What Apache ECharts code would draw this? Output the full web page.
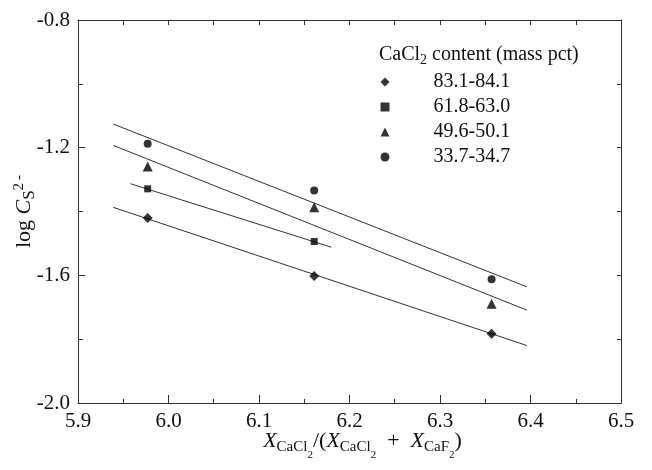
<!DOCTYPE html>
<html>
<head>
<meta charset="utf-8">
<script src="https://cdn.jsdelivr.net/npm/echarts@6/dist/echarts.min.js"></script>
<style>
  html, body { margin: 0; padding: 0; background: #fff; }
  #chart { width: 652px; height: 470px; }
</style>
</head>
<body>
<div id="chart"></div>
<script>
// measured points, x = X_CaCl2/(X_CaCl2+X_CaF2)
const xVals = [5.977, 6.161, 6.357];
const legendNames = ["83.1-84.1", "61.8-63.0", "49.6-50.1", "33.7-34.7"];
const diamondVals = [-1.420, -1.602, -1.783];
const squareVals = [-1.329, -1.494];
const triangleVals = [-1.259, -1.387, -1.689];
const circleVals = [-1.188, -1.334, -1.612];

// fitted lines, endpoints
const fitLongX = [5.939, 6.396];
const fitSquareX = [5.958, 6.180];
const diamondFit = [-1.387, -1.820];
const squareFit = [-1.313, -1.512];
const triangleFit = [-1.193, -1.709];
const circleFit = [-1.126, -1.636];

const xTicks = [5.9, 6.0, 6.1, 6.2, 6.3, 6.4, 6.5];
const yTicks = [-2.0, -1.6, -1.2, -0.8];

const FONT = "Liberation Serif";
const AXIS_COLOR = "#333";
const TEXT_COLOR = "#111";

function pairs(xs, ys) {
  return ys.map((y, i) => [xs[i], y]);
}

function scatter(name, symbol, size, ys) {
  return {
    name: name,
    type: "scatter",
    symbol: symbol,
    symbolSize: size,
    itemStyle: { color: "#000" },
    data: pairs(xVals, ys),
    z: 3,
  };
}

function fitLine(name, xs, ys) {
  return {
    name: name,
    type: "line",
    showSymbol: false,
    symbol: "none",
    lineStyle: { color: "#333", width: 1 },
    data: pairs(xs, ys),
    silent: true,
    z: 2,
  };
}

// rich text piece, top aligned and pushed down by padTop
function rt(size, padTop, italic) {
  return {
    fontFamily: FONT,
    fontSize: size,
    lineHeight: size,
    fontStyle: italic ? "italic" : "normal",
    verticalAlign: "top",
    padding: [padTop, 0, 0, 0],
    color: TEXT_COLOR,
  };
}

const baseAxis = {
  axisLine: { show: true, lineStyle: { color: AXIS_COLOR, width: 1 } },
  splitLine: { show: false },
  minorSplitLine: { show: false },
};

let chart = echarts.init(document.getElementById("chart"));
chart.setOption({
  animation: false,
  backgroundColor: "#fff",
  textStyle: { fontFamily: FONT },
  grid: { left: 78, right: 31, top: 20, bottom: 67, outerBoundsMode: "none", containLabel: false },
  legend: {
    orient: "vertical",
    left: 380.5,
    top: 72,
    padding: 0,
    itemWidth: 9,
    itemHeight: 9,
    itemGap: 5,
    selectedMode: false,
    data: legendNames,
    textStyle: {
      fontFamily: FONT,
      fontSize: 20,
      color: TEXT_COLOR,
      lineHeight: 20,
      padding: [0, 0, 0, 39],
    },
  },
  graphic: [
    {
      type: "text",
      left: 379,
      top: 45,
      style: {
        text: "{a|CaCl}{b|2}{a| content (mass pct)}",
        rich: {
          a: Object.assign(rt(20, 0, false), { fill: TEXT_COLOR }),
          b: Object.assign(rt(14, 8, false), { fill: TEXT_COLOR }),
        },
      },
    },
  ],
  xAxis: [
    Object.assign({}, baseAxis, {
      type: "value",
      min: xTicks[0],
      max: xTicks[xTicks.length - 1],
      interval: 0.1,
      position: "bottom",
      axisTick: { show: true, inside: true, length: 8, lineStyle: { color: AXIS_COLOR } },
      minorTick: { show: true, splitNumber: 2, length: 4, lineStyle: { color: AXIS_COLOR } },
      axisLabel: {
        margin: 8,
        fontFamily: FONT,
        fontSize: 21,
        color: TEXT_COLOR,
        formatter: (v) => v.toFixed(1),
      },
      name: "{x|X}{s|CaCl}{ss|2}{t|/(}{x|X}{s|CaCl}{ss|2}{t|  +  }{x|X}{s|CaF}{ss|2}{t|)}",
      nameLocation: "middle",
      nameGap: 23,
      nameMoveOverlap: false,
      nameTextStyle: {
        padding: [0, 0, 0, 26],
        rich: {
          x: rt(22, 4, true),
          t: rt(22, 4, false),
          s: rt(15, 14, false),
          ss: rt(11, 24, false),
        },
      },
    }),
    Object.assign({}, baseAxis, {
      type: "value",
      min: xTicks[0],
      max: xTicks[xTicks.length - 1],
      interval: 0.1,
      position: "top",
      axisTick: { show: true, inside: true, length: 5, lineStyle: { color: AXIS_COLOR } },
      minorTick: { show: true, splitNumber: 2, length: 5, lineStyle: { color: AXIS_COLOR } },
      axisLabel: { show: false },
    }),
  ],
  yAxis: [
    Object.assign({}, baseAxis, {
      type: "value",
      min: yTicks[0],
      max: yTicks[yTicks.length - 1],
      interval: 0.4,
      position: "left",
      axisTick: { show: true, inside: true, length: 7, lineStyle: { color: AXIS_COLOR } },
      minorTick: { show: true, splitNumber: 2, length: 5, lineStyle: { color: AXIS_COLOR } },
      axisLabel: {
        margin: 8,
        fontFamily: FONT,
        fontSize: 21,
        color: TEXT_COLOR,
        formatter: (v) => v.toFixed(1),
      },
      name: "{a|log }{c|C}{s|S}{p|2\u2009-}",
      nameLocation: "middle",
      nameRotate: 90,
      nameGap: 47,
      nameMoveOverlap: false,
      nameTextStyle: {
        rich: {
          a: rt(22, 4, false),
          c: rt(22, 4, true),
          s: rt(17, 12.5, false),
          p: rt(15, 3, false),
        },
      },
    }),
    Object.assign({}, baseAxis, {
      type: "value",
      min: yTicks[0],
      max: yTicks[yTicks.length - 1],
      interval: 0.4,
      position: "right",
      axisTick: { show: true, inside: true, length: 4, lineStyle: { color: AXIS_COLOR } },
      minorTick: { show: true, splitNumber: 2, length: 4, lineStyle: { color: AXIS_COLOR } },
      axisLabel: { show: false },
    }),
  ],
  series: [
    fitLine("fit1", fitLongX, diamondFit),
    fitLine("fit2", fitSquareX, squareFit),
    fitLine("fit3", fitLongX, triangleFit),
    fitLine("fit4", fitLongX, circleFit),
    scatter(legendNames[0], "diamond", 10, diamondVals),
    scatter(legendNames[1], "rect", 7, squareVals),
    scatter(legendNames[2], "triangle", 10, triangleVals),
    scatter(legendNames[3], "circle", 8, circleVals),
  ],
});
</script>
</body>
</html>
